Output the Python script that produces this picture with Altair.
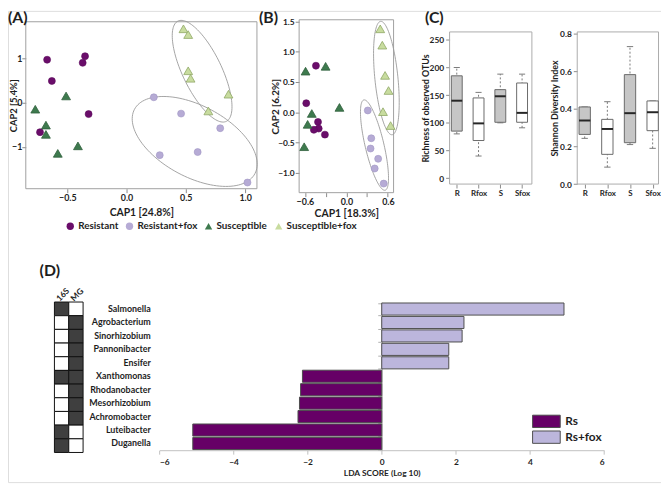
import json
import math
import pandas as pd
import altair as alt

FONT = "Lato"
INK = "#1e1e1e"
TICK = "#8a8a8a"
FRAME = "#a0a0a0"
W, H = 661, 477  # whole drawing area (page coords minus the 8px margin)

# ---------------- (A) / (B) CAP ordination ----------------
groups = ["Resistant", "Resistant+fox", "Susceptible", "Susceptible+fox"]
group_fill = ["#6a0d6a", "#b6abd5", "#3e7a4e", "#c8dc9f"]
group_line = ["#5c0a5c", "#a095c4", "#2f5f3c", "#8fa866"]
group_shape = ["circle", "circle", "triangle-up", "triangle-up"]

a_group = ["Resistant"] * 6 + ["Resistant+fox"] * 6 + ["Susceptible"] * 6 + ["Susceptible+fox"] * 6
a_cap1 = [-0.67, -0.35, -0.37, -0.63, -0.32, -0.73,
          0.23, 0.46, 0.79, 0.60, 0.28, 1.02,
          -0.51, -0.77, -0.68, -0.68, -0.58, -0.41,
          0.48, 0.52, 0.52, 0.54, 0.86, 0.69]
a_cap2 = [0.97, 1.05, 0.90, 0.49, -0.26, -0.67,
          0.12, -0.25, -0.58, -1.12, -1.19, -1.81,
          0.15, -0.15, -0.51, -0.72, -1.15, -0.98,
          1.67, 1.54, 0.72, 0.55, 0.19, -0.19]

b_group = a_group
b_cap1 = [-0.44, -0.58, -0.41, -0.40, -0.47, -0.31,
          0.31, 0.36, 0.35, 0.46, 0.41, 0.54,
          -0.59, -0.30, -0.10, -0.50, -0.56, -0.61,
          0.49, 0.52, 0.56, 0.61, 0.53, 0.64]
b_cap2 = [0.77, 0.15, -0.16, -0.27, -0.29, -0.37,
          0.03, -0.43, -0.60, -0.77, -0.93, -1.18,
          0.68, 0.76, 0.08, -0.02, -0.20, -0.57,
          1.38, 1.11, 0.61, 0.36, 0.01, -0.22]

# ellipses: centre, semi-major vector, conjugate semi-minor vector (data units)
a_ell_name = ["Susceptible+fox", "Resistant+fox"]
a_ell_cx = [0.6375, 0.575]
a_ell_cy = [0.71, -0.88]
a_ell_ax = [0.204, 0.508]
a_ell_ay = [-1.135, -0.728]
a_ell_bx = [0.148, 0.141]
a_ell_by = [0.193, 0.712]

b_ell_name = ["Susceptible+fox", "Resistant+fox"]
b_ell_cx = [0.579, 0.407]
b_ell_cy = [0.566, -0.543]
b_ell_ax = [0.083, 0.154]
b_ell_ay = [-0.938, -0.747]
b_ell_bx = [0.166, 0.132]
b_ell_by = [0.02, 0.036]

# ---------------- (C) diversity boxplots ----------------
div_cats = ["R", "Rfox", "S", "Sfox"]
box_kind = ["shaded", "open", "shaded", "open"]
rich_lo = [80, 40, 100, 91]
rich_q1 = [85, 68, 101, 101]
rich_med = [140, 99, 148, 118]
rich_q3 = [185, 145, 160, 172]
rich_hi = [200, 155, 188, 188]
shan_lo = [0.243, 0.09, 0.21, 0.19]
shan_q1 = [0.264, 0.158, 0.22, 0.284]
shan_med = [0.338, 0.293, 0.377, 0.382]
shan_q3 = [0.41, 0.344, 0.582, 0.442]
shan_hi = [0.41, 0.438, 0.731, 0.442]

# ---------------- (D) LEfSe ----------------
genera = ["Salmonella", "Agrobacterium", "Sinorhizobium", "Pannonibacter", "Ensifer",
          "Xanthomonas", "Rhodanobacter", "Mesorhizobium", "Achromobacter",
          "Luteibacter", "Duganella"]
in_16s = [1, 0, 0, 0, 0, 1, 0, 0, 0, 1, 1]
in_mg = [0, 1, 1, 1, 1, 1, 1, 1, 1, 0, 0]
lda = [4.92, 2.22, 2.17, 1.81, 1.81, -2.14, -2.19, -2.22, -2.26, -5.10, -5.10]
lda_classes = ["Rs", "Rs+fox"]
lda_colors = ["#660066", "#bcb6dc"]

panel_tags = ["(A)", "(B)", "(C)", "(D)"]


# ---------------- helpers ----------------
def qs(dom, rng, **kw):
    return alt.Scale(domain=dom, range=rng, nice=False, zero=False, **kw)


def axis(orient, offset, title, **kw):
    d = dict(orient=orient, offset=offset, title=title, domain=False, grid=False,
             ticks=True, tickSize=4, tickColor=TICK, tickWidth=1,
             labelFont=FONT, labelFontWeight="bold", labelFontSize=9, labelColor=INK,
             labelPadding=2, titleFont=FONT, titleFontWeight="bold", titleFontSize=10.5,
             titleColor=INK)
    d.update(kw)
    return alt.Axis(**d)


def ellipse_df(names, cx, cy, ax_, ay_, bx_, by_, n=120):
    rows = []
    for k, nm in enumerate(names):
        for i in range(n + 1):
            t = 2 * math.pi * i / n
            rows.append({"eid": nm, "i": i,
                         "ex": cx[k] + math.cos(t) * ax_[k] + math.sin(t) * bx_[k],
                         "ey": cy[k] + math.cos(t) * ay_[k] + math.sin(t) * by_[k]})
    return pd.DataFrame(rows)


def cap_panel(df, ell, xdom, ydom, xr, yr, xaxis, yaxis, legend):
    X = lambda f: alt.X(f, type="quantitative", scale=qs(xdom, xr), axis=xaxis)
    Y = lambda f: alt.Y(f, type="quantitative", scale=qs(ydom, yr), axis=yaxis)
    frame_df = pd.DataFrame({"x0": [xdom[0]], "x1": [xdom[1]], "y0": [ydom[0]], "y1": [ydom[1]]})
    frame = alt.Chart(frame_df).mark_rect(fill="transparent", stroke=FRAME, strokeWidth=1).encode(
        x=X("x0"), x2="x1", y=Y("y0"), y2="y1")
    ring = alt.Chart(ell).mark_line(color="#9a9a9a", strokeWidth=0.9).encode(
        x=X("ex"), y=Y("ey"), detail="eid:N", order="i:Q")
    enc = dict(
        x=X("cap1"), y=Y("cap2"),
        color=alt.Color("group:N", scale=alt.Scale(domain=groups, range=group_fill), legend=legend),
        shape=alt.Shape("group:N", scale=alt.Scale(domain=groups, range=group_shape), legend=legend),
        stroke=alt.Stroke("group:N", scale=alt.Scale(domain=groups, range=group_line), legend=None),
    )
    circ = alt.Chart(df).transform_filter(
        alt.FieldOneOfPredicate(field="group", oneOf=groups[:2])
    ).mark_point(filled=True, opacity=1, size=50, strokeWidth=0.6).encode(**enc)
    tri = alt.Chart(df).transform_filter(
        alt.FieldOneOfPredicate(field="group", oneOf=groups[2:])
    ).mark_point(filled=True, opacity=1, size=80, strokeWidth=0.8).encode(**enc)
    return alt.layer(frame, ring, circ, tri)


def box_panel(df, xdom, ydom, xr, yr, xaxis, yaxis):
    X = lambda f: alt.X(f, type="quantitative", scale=qs(xdom, xr), axis=xaxis)
    Y = lambda f: alt.Y(f, type="quantitative", scale=qs(ydom, yr), axis=yaxis)
    frame_df = pd.DataFrame({"x0": [xdom[0]], "x1": [xdom[1]], "y0": [ydom[0]], "y1": [ydom[1]]})
    frame = alt.Chart(frame_df).mark_rect(fill="transparent", stroke="#ababab", strokeWidth=1).encode(
        x=X("x0"), x2="x1", y=Y("y0"), y2="y1")
    base = alt.Chart(df).transform_calculate(
        bl="datum.idx - 0.25", br="datum.idx + 0.25",
        cl="datum.idx - 0.14", cr="datum.idx + 0.14")
    whisk = base.mark_rule(color="#7a7a7a", strokeDash=[2, 2], strokeWidth=1).encode(
        x=X("idx"), y=Y("lo"), y2="hi")
    cap_lo = base.mark_rule(color="#7a7a7a", strokeWidth=1).encode(x=X("cl"), x2="cr", y=Y("lo"))
    cap_hi = base.mark_rule(color="#7a7a7a", strokeWidth=1).encode(x=X("cl"), x2="cr", y=Y("hi"))
    box = base.mark_rect(stroke="#6a6a6a", strokeWidth=1).encode(
        x=X("bl"), x2="br", y=Y("q1"), y2="q3",
        fill=alt.Fill("kind:N", scale=alt.Scale(domain=["shaded", "open"], range=["#c6c6c6", "#ffffff"]),
                      legend=None))
    med = base.mark_rule(color="#262626", strokeWidth=2).encode(x=X("bl"), x2="br", y=Y("med"))
    return alt.layer(frame, whisk, cap_lo, cap_hi, box, med)


# ---------------- panel A ----------------
dfA = pd.DataFrame({"group": a_group, "cap1": a_cap1, "cap2": a_cap2})
ellA = ellipse_df(a_ell_name, a_ell_cx, a_ell_cy, a_ell_ax, a_ell_ay, a_ell_bx, a_ell_by)
A_XDOM, A_YDOM, A_XR, A_YR = [-0.85, 1.10], [-1.95, 1.83], [18, 252], [180, 11]
legA = alt.Legend(orient="none", legendX=58, legendY=213, direction="horizontal", title=None,
                  labelFont=FONT, labelFontWeight="bold", labelFontSize=10, labelColor=INK,
                  symbolSize=55, labelOffset=3, columnPadding=6, symbolStrokeWidth=0)
panelA = cap_panel(
    dfA, ellA, A_XDOM, A_YDOM, A_XR, A_YR,
    axis("bottom", A_YR[0] - H, "CAP1 [24.8%]", values=[-0.5, 0, 0.5, 1.0], format=".1f",
         labelPadding=1, titleY=24, titleBaseline="middle"),
    axis("left", -A_XR[0], "CAP2 [5.4%]", values=[-1, 0, 1], format="d", labelPadding=0,
         titleFontSize=9.5, titleX=-12.3, titleBaseline="middle"),
    legA)

# ---------------- panel B ----------------
dfB = pd.DataFrame({"group": b_group, "cap1": b_cap1, "cap2": b_cap2})
ellB = ellipse_df(b_ell_name, b_ell_cx, b_ell_cy, b_ell_ax, b_ell_ay, b_ell_bx, b_ell_by)
B_XDOM, B_YDOM, B_XR, B_YR = [-0.683, 0.683], [-1.33, 1.53], [294.7, 390.3], [184, 9]
panelB = cap_panel(
    dfB, ellB, B_XDOM, B_YDOM, B_XR, B_YR,
    axis("bottom", B_YR[0] - H, "CAP1 [18.3%]", values=[-0.6, -0.3, 0, 0.3, 0.6],
         labelExpr="abs(datum.value) > 0.45 || datum.value == 0 ? format(datum.value, '.1f') : ''",
         labelPadding=1, titleY=21, titleBaseline="middle"),
    axis("left", -B_XR[0], "CAP2 [6.2%]", values=[-1, -0.5, 0, 0.5, 1, 1.5], format=".1f",
         labelFontSize=8.5, labelPadding=1, titleFontSize=10, titleX=-24, titleBaseline="middle"),
    None)

# ---------------- panel C ----------------
cat_expr = json.dumps(div_cats) + "[datum.value]"
dfR = pd.DataFrame({"cat": div_cats, "idx": range(4), "kind": box_kind, "lo": rich_lo, "q1": rich_q1,
                    "med": rich_med, "q3": rich_q3, "hi": rich_hi})
dfS = pd.DataFrame({"cat": div_cats, "idx": range(4), "kind": box_kind, "lo": shan_lo, "q1": shan_q1,
                    "med": shan_med, "q3": shan_q3, "hi": shan_hi})
C1_XDOM, C1_YDOM, C1_XR, C1_YR = [-0.33, 3.45], [-10.7, 264.3], [447, 530.3], [175.3, 21.3]
C2_XDOM, C2_YDOM, C2_XR, C2_YR = [-0.33, 3.26], [0, 0.809], [576.2, 658.5], [175.3, 21.3]
panelC1 = box_panel(
    dfR, C1_XDOM, C1_YDOM, C1_XR, C1_YR,
    axis("bottom", C1_YR[0] - H, None, values=[0, 1, 2, 3], labelExpr=cat_expr, labelFontSize=8),
    axis("left", -C1_XR[0], "Richness of observed OTUs", values=[0, 50, 100, 150, 200, 250],
         format="d", labelFontSize=8.5, titleFontSize=9, titleX=-24, titleBaseline="middle"))
panelC2 = box_panel(
    dfS, C2_XDOM, C2_YDOM, C2_XR, C2_YR,
    axis("bottom", C2_YR[0] - H, None, values=[0, 1, 2, 3], labelExpr=cat_expr, labelFontSize=8),
    axis("left", -C2_XR[0], "Shannon Diversity Index", values=[0, 0.2, 0.4, 0.6, 0.8],
         format=".1f", labelFontSize=8.5, titleFontSize=9, titleX=-22.7, titleBaseline="middle"))

# ---------------- panel D ----------------
heat = pd.DataFrame({"genus": genera * 2, "assay": ["16S"] * len(genera) + ["MG"] * len(genera),
                     "hit": ["yes" if v else "no" for v in in_16s + in_mg]})
heat_layer = alt.Chart(heat).mark_rect(stroke="#111111", strokeWidth=1).encode(
    x=alt.X("assay:N", scale=alt.Scale(domain=["16S", "MG"], range=[47, 76], paddingInner=0, paddingOuter=0),
            axis=axis("top", -294.7, None, ticks=False, labelAngle=315, labelAlign="left",
                      labelBaseline="middle", labelFontSize=8.5, labelPadding=3, labelOffset=-4)),
    y=alt.Y("genus:N", scale=alt.Scale(domain=genera, range=[294.7, 447], paddingInner=0, paddingOuter=0),
            axis=None),
    fill=alt.Fill("hit:N", scale=alt.Scale(domain=["no", "yes"], range=["#ffffff", "#3f3f3f"]), legend=None))

dfD = pd.DataFrame({"genus": genera, "lda": lda,
                    "cls": [lda_classes[1] if v > 0 else lda_classes[0] for v in lda]})
D_XSC = dict(domain=[-6, 6], range=[153.3, 603.3], nice=False)
D_YSC = dict(domain=genera, range=[295, 444.7], paddingInner=0.1, paddingOuter=0.05)
legD = alt.Legend(orient="none", legendX=538, legendY=408.5, title=None,
                  symbolType="M-2.24,-1H2.24V1H-2.24Z", symbolSize=156,
                  symbolStrokeColor="#4d4d4d", symbolStrokeWidth=1,
                  labelFont=FONT, labelFontWeight="bold", labelFontSize=12, labelColor=INK,
                  labelOffset=12, rowPadding=-2.5)
bars = alt.Chart(dfD).mark_bar(stroke="#4d4d4d", strokeWidth=1).encode(
    x=alt.X("lda:Q", scale=alt.Scale(**D_XSC),
            axis=axis("bottom", 444.7 - H, "LDA SCORE (Log 10)", values=[-6, -4, -2, 0, 2, 4, 6],
                      format="d", domain=True, domainColor="#c0c0c0", tickColor="#c0c0c0",
                      labelFontSize=8.5, labelPadding=3, titleFontSize=8.5, titleY=23,
                      titleBaseline="middle")),
    y=alt.Y("genus:N", scale=alt.Scale(**D_YSC),
            axis=axis("left", -147, None, ticks=False, labelFontSize=9, labelPadding=3)),
    color=alt.Color("cls:N", scale=alt.Scale(domain=lda_classes, range=lda_colors), legend=legD))
zero_line = alt.Chart(dfD).mark_bar(opacity=0).encode(
    x=alt.X("lda:Q", scale=alt.Scale(**D_XSC), axis=None),
    y=alt.Y("genus:N", scale=alt.Scale(**D_YSC),
            axis=axis("left", -378.3, None, labels=False, tickBand="extent", domain=True,
                      domainColor="#b0b0b0", tickColor="#b0b0b0")))

# ---------------- panel tags ----------------
tag_pos = [(0, 7), (254, 7), (422, 7), (32, 263)]
tags = [
    alt.Chart(pd.DataFrame({"t": [t]})).mark_text(
        font=FONT, fontWeight="bold", fontSize=16, align="left", baseline="middle", color=INK
    ).encode(text="t:N", x=alt.value(p[0]), y=alt.value(p[1]))
    for t, p in zip(panel_tags, tag_pos)
]

chart = alt.layer(
    panelA, panelB, panelC1, panelC2, heat_layer, bars, zero_line, *tags
).resolve_scale(
    x="independent", y="independent", color="independent", shape="independent",
    stroke="independent", fill="independent"
).properties(
    width=W, height=H, autosize="none", padding=0
).configure_view(strokeWidth=0).configure(font=FONT)

chart.save("out.html", embed_options={"renderer": "svg", "actions": False})
